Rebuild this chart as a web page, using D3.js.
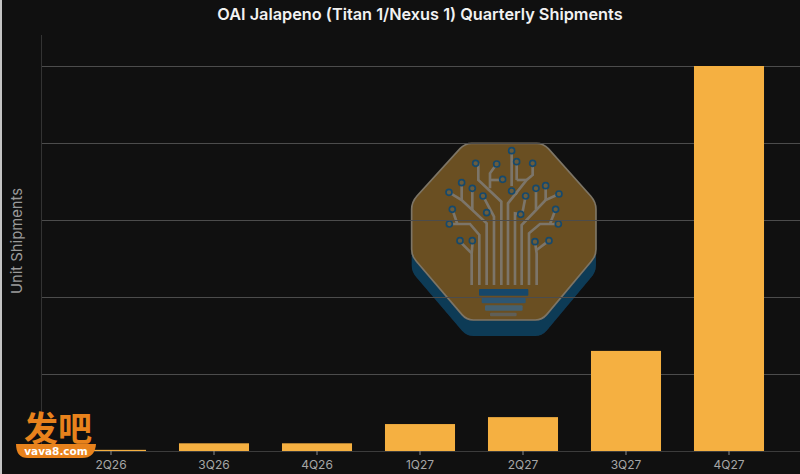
<!doctype html>
<html>
<head>
<meta charset="utf-8">
<script src="https://cdnjs.cloudflare.com/ajax/libs/d3/7.8.5/d3.min.js"></script>
<style type="text/css">
  html, body { margin: 0; padding: 0; background: #101010; overflow: hidden; }
  svg { display: block; font-family: "Inter", sans-serif; }
</style>
</head>
<body>
<svg width="800" height="474">
  <defs><filter id="soft"><feGaussianBlur stdDeviation="1.6"></feGaussianBlur></filter></defs>
</svg>
<script type="text/javascript">
var quarters = ["2Q26", "3Q26", "4Q26", "1Q27", "2Q27", "3Q27", "4Q27"];
var shipments = [0.015, 0.10, 0.10, 0.35, 0.44, 1.30, 5.0];
var gridTicks = [1, 2, 3, 4, 5];
var chartTitle = "OAI Jalapeno (Titan 1/Nexus 1) Quarterly Shipments";
var yTitle = "Unit Shipments";

var svg = d3.select("svg");
svg.append("rect").attr("width", 800).attr("height", 474).attr("fill", "#101010");
svg.append("rect").attr("width", 2).attr("height", 474).attr("fill", "#c4c4c4");

var xScale = d3.scaleBand().domain(quarters).range([59.5, 780.5]).paddingInner(0.32).paddingOuter(0.16);
var yScale = d3.scaleLinear().domain([0, 5]).range([451, 66]);

// logo sits behind the grid, drawn in its own zoomed coordinates
var logo = svg.append("g").attr("transform", "translate(380,120) scale(0.3333)").attr("filter", "url(#soft)");
var octagon = "M275 70H470Q490 70 505 86L632 228Q648 246 648 268V388Q648 408 634 424L500 584Q486 600 466 600H280Q260 600 246 584L109 424Q95 408 95 388V268Q95 246 111 228L240 86Q255 70 275 70Z";
logo.append("path").attr("d", octagon).attr("transform", "translate(0,48)").attr("fill", "#113a56");
logo.append("path").attr("d", octagon).attr("fill", "#6b4f20").attr("stroke", "#7d7566").attr("stroke-width", 5);

var traces = [
  "M275 495V400L240 365", "M275 400L278 365",
  "M298 495V345L270 312H208", "M232 312L217 268",
  "M320 495V310L245 240L207 217", "M245 240V188", "M277 270V205",
  "M342 495V290L309 228", "M325 280L320 278",
  "M364 495V245L295 180V130", "M330 205V160L350 132", "M330 180H368",
  "M384 495V250L440 180L458 165V130", "M410 180V125", "M395 198V92", "M410 180H440",
  "M405 495V280L422 283", "M395 213L412 222",
  "M425 495V315L497 240L537 222", "M468 268V205", "M497 240V197", "M425 290L437 228",
  "M447 495V340L480 312H535", "M510 312L527 268",
  "M470 495V400L465 365", "M470 390L507 362"
];
logo.selectAll("path.trace").data(traces).enter().append("path")
  .attr("class", "trace").attr("d", function(d) { return d; })
  .attr("fill", "none").attr("stroke", "#7b756a").attr("stroke-width", 8);

var pads = [[395,92],[287,130],[350,132],[410,125],[458,130],[368,178],[245,188],[207,217],[277,205],[309,228],
  [395,213],[437,228],[468,205],[497,197],[537,222],[217,268],[320,278],[422,283],[527,268],[208,312],[535,312],
  [240,362],[277,362],[465,365],[507,362]];
logo.selectAll("circle.pad").data(pads).enter().append("circle")
  .attr("class", "pad").attr("cx", function(d) { return d[0]; }).attr("cy", function(d) { return d[1]; })
  .attr("r", 9).attr("fill", "#6a5c3c").attr("stroke", "#174a6c").attr("stroke-width", 5);

var bulb = [[297,507,148,20,"#14476b"],[305,533,132,17,"#2e5672"],[315,556,113,16,"#45606f"],[330,578,80,11,"#5e5f58"]];
logo.selectAll("rect.bulb").data(bulb).enter().append("rect")
  .attr("class", "bulb").attr("x", function(d) { return d[0]; }).attr("y", function(d) { return d[1]; })
  .attr("width", function(d) { return d[2]; }).attr("height", function(d) { return d[3]; })
  .attr("rx", 3).attr("fill", function(d) { return d[4]; });

// grid lines
var yAxis = d3.axisLeft(yScale).tickValues(gridTicks).tickSize(-759).tickFormat("");
var yG = svg.append("g").attr("transform", "translate(41,0)").call(yAxis);
yG.select(".domain").remove();
yG.selectAll("line").attr("stroke", "#4c4c4c").attr("stroke-width", 1);

svg.append("line").attr("x1", 41.5).attr("x2", 41.5).attr("y1", 35).attr("y2", 451)
  .attr("stroke", "#333").attr("stroke-width", 1);

var xAxis = d3.axisBottom(xScale).tickSize(4).tickPadding(5);
var xG = svg.append("g").attr("transform", "translate(0,451)").call(xAxis);
xG.select(".domain").attr("d", "M41,0.5H800").attr("stroke", "#3c3c3c");
xG.selectAll("line").attr("stroke", "#8a8a8a");
xG.selectAll("text").attr("fill", "#a6a6a6").style("font-size", "12px").style("font-family", "Inter, sans-serif");

svg.selectAll("rect.bar").data(shipments).enter().append("rect")
  .attr("class", "bar")
  .attr("x", function(d, i) { return xScale(quarters[i]); })
  .attr("y", function(d) { return yScale(d); })
  .attr("width", xScale.bandwidth())
  .attr("height", function(d) { return 451 - yScale(d); })
  .attr("fill", "#f5b041");

svg.append("text").attr("x", 420).attr("y", 20).attr("text-anchor", "middle")
  .attr("fill", "#f2f2f2").style("font-size", "16.3px").style("font-weight", 600).text(chartTitle);

svg.append("text").attr("transform", "translate(21.5,241) rotate(-90)").attr("text-anchor", "middle")
  .attr("fill", "#9a9a9a").style("font-size", "14.8px").text(yTitle);

// watermark
var mark = svg.append("g");
mark.append("text").attr("x", 58).attr("y", 441).attr("text-anchor", "middle")
  .attr("fill", "#e8821c").style("font-family", "'Noto Sans CJK SC'").style("font-size", "34px").style("font-weight", 700).text("发吧");
mark.append("path").attr("d", "M16 444H96Q95 458 82 458H28Q16 458 16 444Z").attr("fill", "#e8821c");
mark.append("text").attr("x", 56).attr("y", 455).attr("text-anchor", "middle")
  .attr("fill", "#fff").style("font-family", "'DejaVu Sans'").style("font-size", "10.5px").style("font-weight", 700).text("vava8.com");
</script>
</body>
</html>
